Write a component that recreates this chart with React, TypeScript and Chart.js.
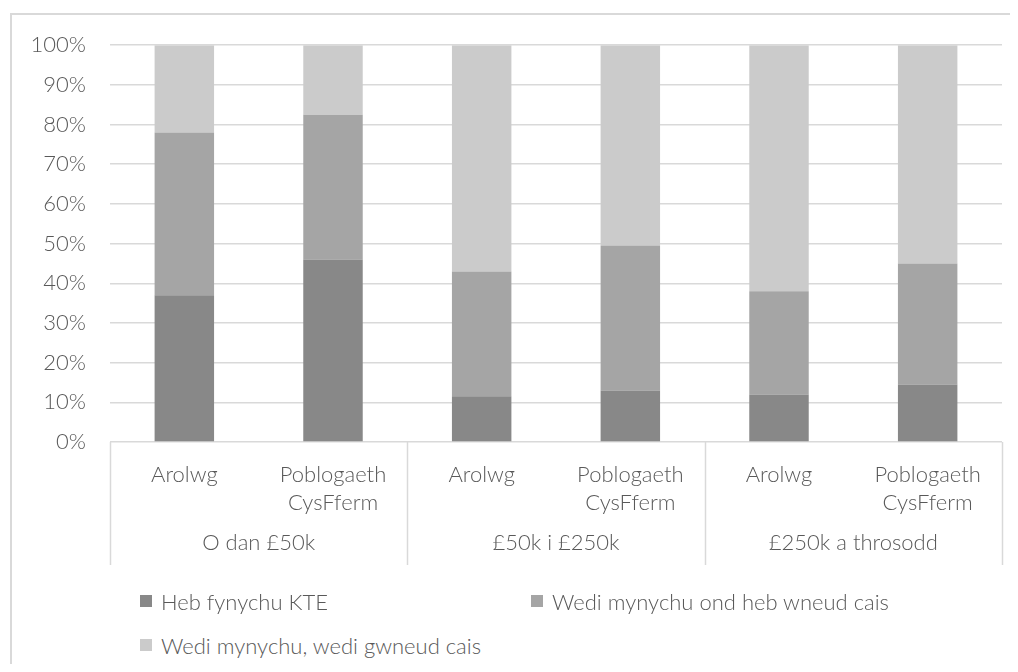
import React, { useEffect, useRef } from "react";
import { Chart, registerables } from "chart.js";

Chart.register(...registerables);

const categories: (string | string[])[] = [
  "Arolwg",
  ["Poblogaeth", "CysFferm"],
  "Arolwg",
  ["Poblogaeth", "CysFferm"],
  "Arolwg",
  ["Poblogaeth", "CysFferm"],
];
const groups = ["O dan £50k", "£50k i £250k", "£250k a throsodd"];
const hebFynychu = [37, 46, 11.5, 13, 12, 14.5];
const wediOndHeb = [41, 36.5, 31.5, 36.5, 26, 30.5];
const wediGwneud = [22, 17.5, 57, 50.5, 62, 55];
const yTicks = [0, 10, 20, 30, 40, 50, 60, 70, 80, 90, 100];

const seriesNames = [
  "Heb fynychu KTE",
  "Wedi mynychu ond heb wneud cais",
  "Wedi mynychu, wedi gwneud cais",
];
const seriesColors = ["#888888", "#a5a5a5", "#cbcbcb"];

const FONT = 'Lato, "Open Sans", sans-serif';
const WEIGHT = "300";
const TEXT = "#595959";
const GRID = "#d9d9d9";

export default function App() {
  const ref = useRef<HTMLCanvasElement | null>(null);

  useEffect(() => {
    if (!ref.current) return;
    const separators = {
      id: "separators",
      afterDraw(chart: any) {
        const x = chart.scales.x;
        const x2 = chart.scales.x2;
        const ctx = chart.ctx;
        const bounds = [x.left];
        for (let g = 1; g < groups.length; g++) {
          bounds.push((x.getPixelForValue(2 * g - 1) + x.getPixelForValue(2 * g)) / 2);
        }
        bounds.push(x.right);
        ctx.save();
        ctx.strokeStyle = GRID;
        ctx.lineWidth = 1.5;
        bounds.forEach((bx: number) => {
          const px = Math.round(bx) + 0.5;
          ctx.beginPath();
          ctx.moveTo(px, chart.chartArea.bottom);
          ctx.lineTo(px, x2.bottom);
          ctx.stroke();
        });
        ctx.restore();
      },
    };
    const tickFont = { family: FONT, size: 22, lineHeight: 1.27, weight: WEIGHT };
    const chart = new Chart(ref.current, {
      type: "bar",
      data: {
        labels: categories,
        datasets: [hebFynychu, wediOndHeb, wediGwneud].map((d, i) => ({
          label: seriesNames[i],
          data: d,
          backgroundColor: seriesColors[i],
          borderWidth: 0,
          barPercentage: 0.4,
          categoryPercentage: 1,
          xAxisID: "x",
        })),
      },
      options: {
        animation: false,
        responsive: false,
        maintainAspectRatio: false,
        layout: { padding: { top: 36, right: 8, bottom: 23, left: 0 } },
        plugins: {
          legend: { display: false },
          tooltip: { enabled: false },
        },
        scales: {
          x: {
            type: "category",
            stacked: true,
            position: "bottom",
            weight: 0,
            grid: { display: false, drawTicks: false },
            border: { display: false },
            ticks: {
              autoSkip: false,
              maxRotation: 0,
              padding: 19,
              color: TEXT,
              font: tickFont,
            },
            afterFit: (s: any) => {
              s.height = 80;
            },
          },
          x2: {
            type: "category",
            labels: groups,
            position: "bottom",
            weight: 1,
            offset: true,
            grid: { display: false, drawTicks: false },
            border: { display: false },
            ticks: {
              autoSkip: false,
              maxRotation: 0,
              padding: 7,
              color: TEXT,
              font: tickFont,
            },
            afterFit: (s: any) => {
              s.height = 43;
            },
          },
          y: {
            stacked: true,
            min: 0,
            max: 100,
            afterBuildTicks: (s: any) => {
              s.ticks = yTicks.map((v) => ({ value: v }));
            },
            grid: { color: GRID, lineWidth: 1.5, drawTicks: false },
            border: { display: false },
            ticks: {
              padding: 24,
              color: TEXT,
              font: { family: FONT, size: 22, weight: WEIGHT },
              callback: (v: any) => v + "%",
            },
            afterFit: (s: any) => {
              s.width = 102;
            },
          },
        },
      } as any,
      plugins: [separators],
    });
    return () => chart.destroy();
  }, []);

  const legendItem = (i: number, left: number, top: number) => (
    <div
      key={i}
      style={{
        position: "absolute",
        left,
        top,
        height: 28,
        display: "flex",
        alignItems: "center",
        whiteSpace: "nowrap",
        fontFamily: FONT,
        fontWeight: 300,
        fontSize: 22,
        color: TEXT,
      }}
    >
      <span
        style={{
          display: "inline-block",
          width: 12,
          height: 12,
          background: seriesColors[i],
          marginRight: 9,
        }}
      />
      {seriesNames[i]}
    </div>
  );

  return (
    <div style={{ position: "relative", width: 1002, height: 656, overflow: "hidden" }}>
      <div
        style={{
          position: "absolute",
          left: 2,
          top: 5,
          width: 1100,
          height: 800,
          border: "2px solid " + GRID,
          boxSizing: "border-box",
        }}
      />
      <canvas
        ref={ref}
        width={1002}
        height={580}
        style={{ position: "absolute", left: 0, top: 0, width: 1002, height: 580 }}
      />
      {legendItem(0, 132, 579)}
      {legendItem(1, 523, 579)}
      {legendItem(2, 132, 623)}
    </div>
  );
}
